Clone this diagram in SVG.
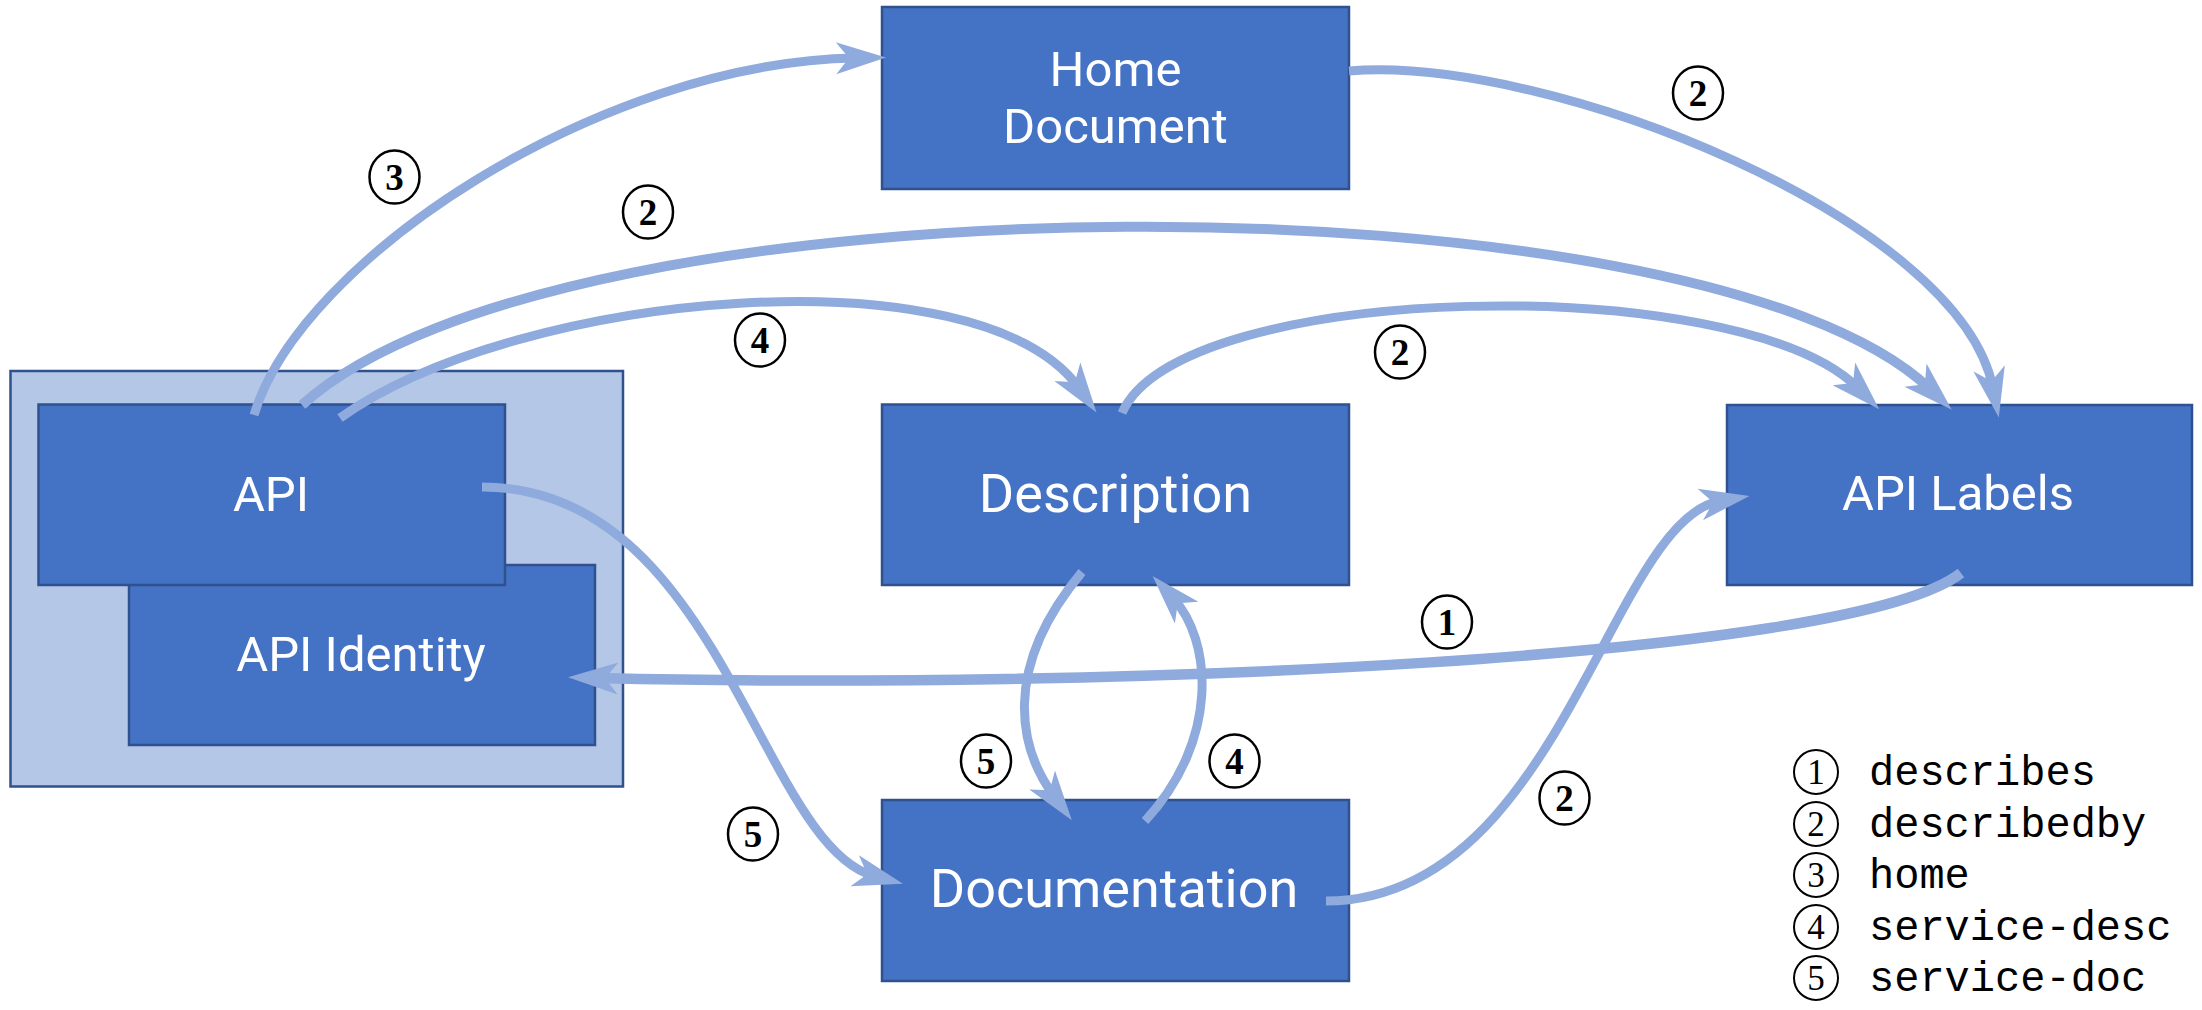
<svg xmlns="http://www.w3.org/2000/svg" width="2202" height="1010" viewBox="0 0 2202 1010">
<style>
.box{fill:#4472C4;stroke:#2F528F;stroke-width:2.5}
.outer{fill:#B4C7E7;stroke:#2F528F;stroke-width:2.5}
.lbl{font-family:Roboto,"Liberation Sans",sans-serif;fill:#FFFFFF;text-anchor:middle}
.conn{fill:none;stroke:#8FAADC;stroke-width:9;marker-end:url(#ah)}
.num ellipse{fill:#FFFFFF;stroke:#000000;stroke-width:2.5}
.num text{font-family:"Liberation Serif",serif;font-size:37px;font-weight:bold;fill:#000000;text-anchor:middle}
.leg circle{fill:none;stroke:#000000;stroke-width:2}
.leg .d{font-family:"Liberation Serif",serif;font-size:35px;fill:#000000;text-anchor:middle}
.leg .t{font-family:"Liberation Mono","Courier New",monospace;font-size:42px;fill:#000000}
</style>
<defs>
<marker id="ah" markerUnits="userSpaceOnUse" orient="auto" markerWidth="80" markerHeight="60" viewBox="-30 -30 80 60" refX="0" refY="0" overflow="visible">
<path d="M30,0 L-20,-16 L-7,0 L-20,16 Z" fill="#8FAADC"/>
</marker>
</defs>
<rect x="0" y="0" width="2202" height="1010" fill="#FFFFFF"/>

<g id="api-group">
<rect class="outer" x="10.5" y="371" width="612.5" height="415.5"/>
</g>
<g id="api-identity">
<rect class="box" x="129" y="565" width="466" height="180"/>
<text class="lbl" x="361" y="671" font-size="49">API Identity</text>
</g>
<g id="api">
<rect class="box" x="38.5" y="404.5" width="466.5" height="180.5"/>
<text class="lbl" x="271" y="511" font-size="49">API</text>
</g>
<g id="home-document">
<rect class="box" x="882" y="7" width="467" height="182"/>
<text class="lbl" x="1115.5" y="86" font-size="49">Home</text>
<text class="lbl" x="1115.5" y="143" font-size="49">Document</text>
</g>
<g id="description">
<rect class="box" x="882" y="404.5" width="467" height="180.5"/>
<text class="lbl" x="1115.5" y="512" font-size="54">Description</text>
</g>
<g id="api-labels">
<rect class="box" x="1727" y="405" width="465" height="180"/>
<text class="lbl" x="1958" y="510" font-size="49">API Labels</text>
</g>
<g id="documentation">
<rect class="box" x="882" y="800" width="467" height="181"/>
<text class="lbl" x="1114" y="907" font-size="54">Documentation</text>
</g>

<g id="connectors">
<path class="conn" d="M254,415 C300,260 600,62 856,58"/>
<path class="conn" style="stroke-width:10" d="M302,405 C560,170 1700,170 1930,389"/>
<path class="conn" d="M340,418 C520,290 980,250 1079,388"/>
<path class="conn" d="M1122,413 C1180,280 1740,270 1858,388"/>
<path class="conn" d="M1349,71 C1550,55 1960,220 1993,388"/>
<path class="conn" style="stroke-width:10.5" d="M1961,573 C1850,660 1100,690 598,678"/>
<path class="conn" d="M482,487 C720,487 760,845 874,876"/>
<path class="conn" d="M1082,572 C1000,670 1020,750 1054,796"/>
<path class="conn" d="M1145,821 C1220,740 1212,640 1173,598"/>
<path class="conn" d="M1326,901 C1560,900 1610,520 1720,501"/>
</g>

<g id="labels" class="num">
<g><ellipse cx="394.5" cy="177" rx="25" ry="26.5"/><text x="394.5" y="190">3</text></g>
<g><ellipse cx="648" cy="212" rx="25" ry="26.5"/><text x="648" y="225">2</text></g>
<g><ellipse cx="760" cy="340" rx="25" ry="26.5"/><text x="760" y="353">4</text></g>
<g><ellipse cx="1698" cy="93" rx="25" ry="26.5"/><text x="1698" y="106">2</text></g>
<g><ellipse cx="1400" cy="352" rx="25" ry="26.5"/><text x="1400" y="365">2</text></g>
<g><ellipse cx="1447" cy="622" rx="25" ry="26.5"/><text x="1447" y="635">1</text></g>
<g><ellipse cx="753" cy="834" rx="25" ry="26.5"/><text x="753" y="847">5</text></g>
<g><ellipse cx="986" cy="761" rx="25" ry="26.5"/><text x="986" y="774">5</text></g>
<g><ellipse cx="1234.5" cy="761" rx="25" ry="26.5"/><text x="1234.5" y="774">4</text></g>
<g><ellipse cx="1564.5" cy="798" rx="25" ry="26.5"/><text x="1564.5" y="811">2</text></g>
</g>

<g id="legend" class="leg">
<circle cx="1816" cy="772" r="22"/><text class="d" x="1816" y="784">1</text><text class="t" x="1869" y="785">describes</text>
<circle cx="1816" cy="824" r="22"/><text class="d" x="1816" y="836">2</text><text class="t" x="1869" y="837">describedby</text>
<circle cx="1816" cy="875" r="22"/><text class="d" x="1816" y="887">3</text><text class="t" x="1869" y="888">home</text>
<circle cx="1816" cy="927" r="22"/><text class="d" x="1816" y="939">4</text><text class="t" x="1869" y="940">service-desc</text>
<circle cx="1816" cy="978" r="22"/><text class="d" x="1816" y="990">5</text><text class="t" x="1869" y="991">service-doc</text>
</g>
</svg>
